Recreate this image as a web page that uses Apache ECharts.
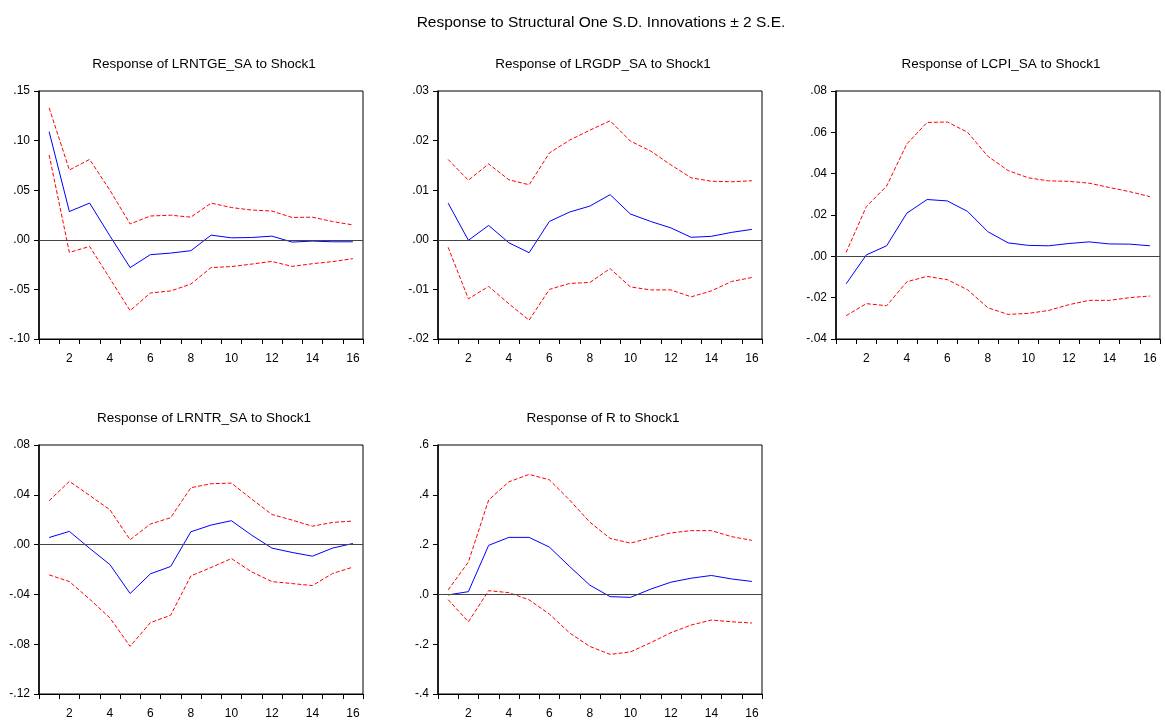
<!DOCTYPE html>
<html>
<head>
<meta charset="utf-8">
<script src="https://cdn.jsdelivr.net/npm/echarts@6/dist/echarts.min.js"></script>
<style>
html,body{margin:0;padding:0;background:#fff;}
#chart{width:1165px;height:722px;}
</style>
</head>
<body>
<div id="chart"></div>
<script>
// ---- data ----
const periods = ['1','2','3','4','5','6','7','8','9','10','11','12','13','14','15','16'];

const mainTitle = 'Response to Structural One S.D. Innovations \u00b1 2 S.E.';
const panelTitles = [
  'Response of LRNTGE_SA to Shock1',
  'Response of LRGDP_SA to Shock1',
  'Response of LCPI_SA to Shock1',
  'Response of LRNTR_SA to Shock1',
  'Response of R to Shock1'
];

// y-axis ranges: [min, max, interval, decimals]
const yRange1 = [-0.10, 0.15, 0.05, 2];
const yRange2 = [-0.02, 0.03, 0.01, 2];
const yRange3 = [-0.04, 0.08, 0.02, 2];
const yRange4 = [-0.12, 0.08, 0.04, 2];
const yRange5 = [-0.4, 0.6, 0.2, 1];

// Panel 1: LRNTGE_SA
const resp1  = [0.109, 0.0285, 0.037, 0.004, -0.028, -0.015, -0.0134, -0.011, 0.0047, 0.002, 0.0023, 0.0037, -0.0023, -0.0013, -0.002, -0.002];
const upper1 = [0.133, 0.0704, 0.081, 0.050, 0.016, 0.024, 0.0248, 0.0228, 0.037, 0.0325, 0.030, 0.029, 0.0225, 0.0228, 0.0184, 0.015];
const lower1 = [0.0855, -0.0127, -0.0067, -0.039, -0.0714, -0.0536, -0.0516, -0.0446, -0.028, -0.027, -0.0245, -0.0218, -0.0268, -0.0241, -0.022, -0.019];

// Panel 2: LRGDP_SA
const resp2  = [0.0074, -0.0001, 0.0029, -0.0006, -0.0026, 0.0037, 0.0056, 0.0068, 0.0091, 0.0052, 0.0037, 0.0024, 0.0005, 0.0007, 0.0015, 0.0021];
const upper2 = [0.0162, 0.0120, 0.0153, 0.0121, 0.0111, 0.0175, 0.0201, 0.0221, 0.0240, 0.0199, 0.0179, 0.0151, 0.0125, 0.0118, 0.0117, 0.0119];
const lower2 = [-0.0015, -0.0119, -0.0094, -0.0129, -0.0162, -0.0100, -0.0088, -0.0086, -0.0058, -0.0095, -0.0101, -0.0101, -0.0115, -0.0103, -0.0084, -0.0076];

// Panel 3: LCPI_SA
const resp3  = [-0.0133, 0.0007, 0.0051, 0.0209, 0.0275, 0.0268, 0.0217, 0.0119, 0.0065, 0.0053, 0.0051, 0.0062, 0.0070, 0.0060, 0.0059, 0.0051];
const upper3 = [0.0019, 0.0241, 0.0340, 0.0544, 0.0648, 0.0650, 0.0600, 0.0484, 0.0415, 0.0380, 0.0365, 0.0363, 0.0354, 0.0333, 0.0313, 0.0289];
const lower3 = [-0.0287, -0.0229, -0.0239, -0.0123, -0.0097, -0.0113, -0.0162, -0.0249, -0.0281, -0.0276, -0.0262, -0.0234, -0.0213, -0.0213, -0.0200, -0.0192];

// Panel 4: LRNTR_SA
const resp4  = [0.0057, 0.0106, -0.003, -0.016, -0.0393, -0.0235, -0.0176, 0.0103, 0.0157, 0.0192, 0.0076, -0.0028, -0.0063, -0.0093, -0.0028, 0.0009];
const upper4 = [0.0352, 0.0508, 0.0395, 0.0280, 0.0039, 0.0165, 0.0216, 0.0457, 0.0489, 0.0494, 0.0366, 0.0242, 0.0197, 0.0148, 0.0178, 0.0189];
const lower4 = [-0.0243, -0.0297, -0.0438, -0.0589, -0.0817, -0.0627, -0.0568, -0.0251, -0.0184, -0.0112, -0.0219, -0.0297, -0.0313, -0.0329, -0.0232, -0.0181];

// Panel 5: R
const resp5  = [-0.002, 0.011, 0.197, 0.229, 0.229, 0.190, 0.112, 0.037, -0.009, -0.012, 0.021, 0.049, 0.065, 0.076, 0.062, 0.052];
const upper5 = [0.018, 0.130, 0.379, 0.452, 0.482, 0.460, 0.379, 0.290, 0.225, 0.206, 0.227, 0.247, 0.256, 0.256, 0.232, 0.217];
const lower5 = [-0.021, -0.110, 0.015, 0.007, -0.022, -0.079, -0.155, -0.209, -0.241, -0.231, -0.194, -0.154, -0.123, -0.103, -0.110, -0.115];

// ---- layout ----
const FONT = '"Liberation Sans Narrow", "Arial Narrow", "Liberation Sans", Arial, sans-serif';
const grids = [
  {left: 39,  top: 91,  width: 324, height: 248},
  {left: 438, top: 91,  width: 324, height: 248},
  {left: 836, top: 91,  width: 324, height: 248},
  {left: 39,  top: 445, width: 324, height: 249},
  {left: 438, top: 445, width: 324, height: 249}
];
const titleY = [52, 52, 52, 406, 406];
const ranges = [yRange1, yRange2, yRange3, yRange4, yRange5];
const resps = [resp1, resp2, resp3, resp4, resp5];
const uppers = [upper1, upper2, upper3, upper4, upper5];
const lowers = [lower1, lower2, lower3, lower4, lower5];

function fmt(v, d) {
  let s = Math.abs(v) < 1e-12 ? (0).toFixed(d) : v.toFixed(d);
  s = s.replace(/^(-?)0\./, '$1.');
  return s;
}

const option = {
  backgroundColor: '#fff',
  animation: false,
  title: [{
    text: mainTitle,
    left: 596, top: 10, textAlign: 'center',
    textStyle: {fontFamily: FONT, fontSize: 15.5, fontWeight: 'normal', color: '#000'}
  }].concat(panelTitles.map((t, i) => ({
    text: t,
    left: grids[i].left + grids[i].width / 2 - 2, top: titleY[i], textAlign: 'center',
    textStyle: {fontFamily: FONT, fontSize: 13.5, fontWeight: 'normal', color: '#000'}
  }))),
  grid: grids.map(g => Object.assign({show: true, borderColor: '#000', borderWidth: 1, backgroundColor: 'transparent'}, g)),
  xAxis: grids.map((g, i) => ({
    type: 'category', gridIndex: i, data: periods, boundaryGap: true,
    axisLine: {show: true, onZero: false, lineStyle: {color: '#000', width: 1}},
    axisTick: {show: true, interval: 0, length: 5, lineStyle: {color: '#000'}},
    axisLabel: {
      interval: function (idx) { return idx % 2 === 1; },
      margin: 14, fontFamily: FONT, fontSize: 12, color: '#000'
    },
    splitLine: {show: false}
  })),
  yAxis: ranges.map((r, i) => ({
    type: 'value', gridIndex: i, min: r[0], max: r[1], interval: r[2],
    axisLine: {show: true, lineStyle: {color: '#000', width: 1.5}},
    axisTick: {show: true, length: 5, lineStyle: {color: '#000'}},
    axisLabel: {
      margin: 9, fontFamily: FONT, fontSize: 12, color: '#000',
      formatter: function (v) { return fmt(v, r[3]); }
    },
    splitLine: {show: false}
  })),
  series: []
};

for (let i = 0; i < 5; i++) {
  option.series.push({
    type: 'line', xAxisIndex: i, yAxisIndex: i, data: uppers[i],
    symbol: 'none', silent: true,
    lineStyle: {color: '#ff0000', width: 1, type: [4, 2]}
  });
  option.series.push({
    type: 'line', xAxisIndex: i, yAxisIndex: i, data: lowers[i],
    symbol: 'none', silent: true,
    lineStyle: {color: '#ff0000', width: 1, type: [4, 2]}
  });
  option.series.push({
    type: 'line', xAxisIndex: i, yAxisIndex: i, data: resps[i],
    symbol: 'none', silent: true, z: 3,
    lineStyle: {color: '#0000ff', width: 1},
    markLine: {
      silent: true, symbol: 'none', label: {show: false},
      lineStyle: {color: '#444', width: 1, type: 'solid'},
      data: [{yAxis: 0}]
    }
  });
}

const chart = echarts.init(document.getElementById('chart'), null, {renderer: 'canvas'});
chart.setOption(option);
</script>
</body>
</html>
